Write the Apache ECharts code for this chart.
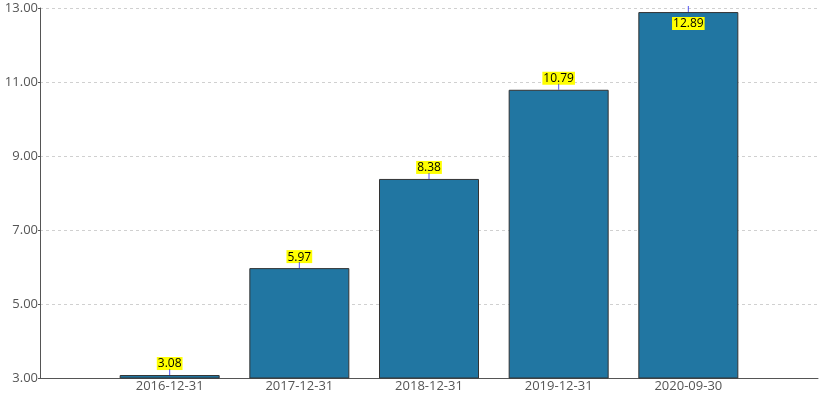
<!DOCTYPE html>
<html><head><meta charset="utf-8">
<script src="https://cdn.jsdelivr.net/npm/echarts@6/dist/echarts.min.js"></script>
<style>html,body{margin:0;padding:0;background:#fff}#c{width:821px;height:394px}</style>
</head><body><div id="c"></div>
<script>
var categories = ['', '2016-12-31', '2017-12-31', '2018-12-31', '2019-12-31', '2020-09-30', ''];
var values = [null, 3.08, 5.97, 8.38, 10.79, 12.89, null];
var yMin = 3, yMax = 13, yInterval = 2;

var chart = echarts.init(document.getElementById('c'));
var barData = values.map(function (v) {
  if (v == null) return null;
  var item = { value: v };
  if (v > yMax - 0.6) {
    item.label = { position: 'insideTop', distance: 5 };
  }
  return item;
});
chart.setOption({
  animation: false,
  grid: { left: 40, right: 1, top: 8, bottom: 16 },
  xAxis: {
    type: 'category',
    data: categories,
    boundaryGap: false,
    axisLine: { lineStyle: { color: '#555', width: 1 } },
    axisTick: { show: false },
    axisLabel: { color: '#555', fontSize: 13, fontFamily: 'Open Sans', margin: 2, interval: 0 },
    splitLine: {
      show: true,
      interval: function (index) { return index === 0; },
      lineStyle: { color: '#555', width: 1, type: 'solid' }
    }
  },
  yAxis: {
    type: 'value',
    min: yMin, max: yMax, interval: yInterval,
    axisLine: { show: true, lineStyle: { color: '#555', width: 1 } },
    axisTick: { show: true, length: 2, lineStyle: { color: '#555' } },
    axisLabel: { color: '#555', fontSize: 13, fontFamily: 'Open Sans', margin: 2,
      formatter: function (v) { return v.toFixed(2); } },
    splitLine: { show: true, lineStyle: { color: '#d0d0d0', type: [3, 3] } }
  },
  series: [
    {
      type: 'bar',
      data: barData,
      barWidth: 100,
      itemStyle: { color: '#2176a2', borderColor: '#333', borderWidth: 1 },
      label: {
        show: true, position: 'top', distance: 5,
        color: '#000', fontSize: 12, fontFamily: 'Open Sans',
        backgroundColor: '#ffff00', padding: [1, 1, 0, 1],
        formatter: function (p) { return p.value.toFixed(2); }
      },
      z: 2
    },
    {
      type: 'scatter',
      data: values,
      symbol: 'rect',
      symbolSize: [1, 6],
      symbolOffset: [0, -3],
      itemStyle: { color: '#2a2aee' },
      silent: true,
      z: 3
    }
  ]
});
</script></body></html>
